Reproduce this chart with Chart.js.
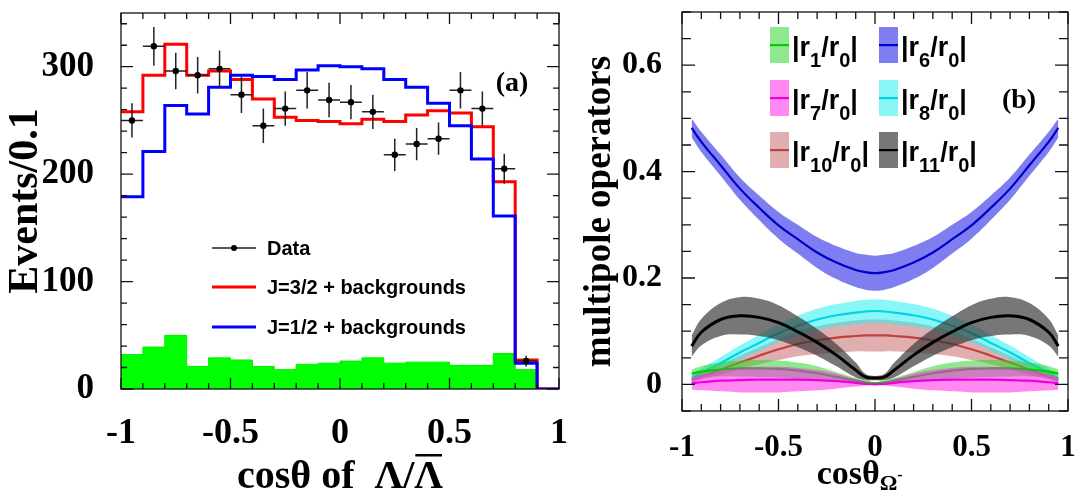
<!DOCTYPE html>
<html lang="en">
<head>
<meta charset="UTF-8">
<title>cos theta distributions</title>
<style>
  html, body { margin: 0; padding: 0; background: #fff; }
  #wrap { position: relative; width: 1075px; height: 497px; }
  #histChart { position: absolute; left: 0; top: 0; }
  #multChart { position: absolute; left: 575px; top: 0; }
</style>
</head>
<body>
<div id="wrap">
  <canvas id="histChart" width="575" height="497"></canvas>
  <canvas id="multChart" width="500" height="497"></canvas>
</div>
<script src="https://cdn.jsdelivr.net/npm/chart.js"></script>
<script>
// ---- panel (a): histogram, 20 bins of 0.1 ----
const binLow = [-1.0, -0.9, -0.8, -0.7, -0.6, -0.5, -0.4, -0.3, -0.2, -0.1,
                 0.0,  0.1,  0.2,  0.3,  0.4,  0.5,  0.6,  0.7,  0.8,  0.9];
const dataCounts = [250, 319, 296, 292, 298, 274, 245, 261, 278, 269,
                    267, 258, 218, 228, 233, 278, 261, 205, 26];
const dataErrors = [16, 18, 17, 17, 17, 17, 16, 16, 17, 16,
                    16, 16, 15, 15, 15, 17, 16, 14, 5];
const fitJ32 = [258, 292, 321, 292, 296, 288, 270, 253, 250, 249,
                247, 251, 249, 255, 259, 257, 244, 193, 27, 0];
const fitJ12 = [179, 221, 264, 256, 281, 292, 291, 288, 297, 301,
                300, 298, 288, 281, 266, 245, 214, 161, 24, 0];
const background = [32, 39, 50, 21, 29, 27, 21, 18, 23, 24,
                    26, 29, 24, 25, 25, 22, 22, 33, 18, 0];
const histXTicks = [-1, -0.5, 0, 0.5, 1];
const histYTicks = [0, 100, 200, 300];

// ---- panel (b): multipole operators vs cos theta ----
const omegaX = [-0.95, -0.9, -0.8, -0.7, -0.6, -0.5, -0.4, -0.3, -0.2, -0.1, -0.05, 0,
                 0.05, 0.1, 0.2, 0.3, 0.4, 0.5, 0.6, 0.7, 0.8, 0.9, 0.95];
const r1 = [0.020, 0.024, 0.028, 0.030, 0.030, 0.029, 0.026, 0.021, 0.014, 0.007, 0.004, 0.002,
            0.004, 0.007, 0.014, 0.021, 0.026, 0.029, 0.030, 0.030, 0.028, 0.024, 0.020];
const r1Err = [0.008, 0.010, 0.013, 0.015, 0.016, 0.016, 0.015, 0.013, 0.009, 0.005, 0.003, 0.002,
               0.003, 0.005, 0.009, 0.013, 0.015, 0.016, 0.016, 0.015, 0.013, 0.010, 0.008];
const r6 = [0.482, 0.456, 0.412, 0.368, 0.332, 0.299, 0.273, 0.248, 0.229, 0.215, 0.211, 0.209,
            0.211, 0.215, 0.229, 0.248, 0.273, 0.299, 0.332, 0.368, 0.412, 0.456, 0.482];
const r6Err = [0.018, 0.019, 0.020, 0.021, 0.023, 0.025, 0.027, 0.029, 0.031, 0.032, 0.033, 0.033,
               0.033, 0.032, 0.031, 0.029, 0.027, 0.025, 0.023, 0.021, 0.020, 0.019, 0.018];
const r7 = [0.002, 0.004, 0.007, 0.008, 0.009, 0.009, 0.009, 0.008, 0.006, 0.003, 0.001, 0.000,
            0.001, 0.003, 0.006, 0.008, 0.009, 0.009, 0.009, 0.008, 0.007, 0.004, 0.002];
const r7Err = [0.012, 0.015, 0.020, 0.023, 0.024, 0.024, 0.022, 0.019, 0.014, 0.007, 0.003, 0.001,
               0.003, 0.007, 0.014, 0.019, 0.022, 0.024, 0.024, 0.023, 0.020, 0.015, 0.012];
const r8 = [0.011, 0.022, 0.040, 0.060, 0.078, 0.096, 0.110, 0.122, 0.130, 0.135, 0.137, 0.138,
            0.137, 0.135, 0.130, 0.122, 0.110, 0.096, 0.078, 0.060, 0.040, 0.022, 0.011];
const r8Err = [0.006, 0.008, 0.011, 0.013, 0.015, 0.017, 0.019, 0.020, 0.021, 0.022, 0.022, 0.022,
               0.022, 0.022, 0.021, 0.020, 0.019, 0.017, 0.015, 0.013, 0.011, 0.008, 0.006];
const r10 = [0.008, 0.015, 0.028, 0.041, 0.054, 0.066, 0.076, 0.083, 0.088, 0.091, 0.092, 0.092,
             0.092, 0.091, 0.088, 0.083, 0.076, 0.066, 0.054, 0.041, 0.028, 0.015, 0.008];
const r10Err = [0.004, 0.006, 0.010, 0.013, 0.016, 0.020, 0.023, 0.026, 0.028, 0.029, 0.030, 0.030,
                0.030, 0.029, 0.028, 0.026, 0.023, 0.020, 0.016, 0.013, 0.010, 0.006, 0.004];
const r11 = [0.072, 0.098, 0.122, 0.129, 0.126, 0.116, 0.099, 0.079, 0.055, 0.027, 0.014, 0.012,
             0.014, 0.027, 0.055, 0.079, 0.099, 0.116, 0.126, 0.129, 0.122, 0.098, 0.072];
const r11Err = [0.020, 0.025, 0.031, 0.035, 0.035, 0.033, 0.029, 0.025, 0.021, 0.014, 0.006, 0.004,
                0.006, 0.014, 0.021, 0.025, 0.029, 0.033, 0.035, 0.035, 0.031, 0.025, 0.020];
const omegaXTicks = [-1, -0.5, 0, 0.5, 1];
const omegaYTicks = [0, 0.2, 0.4, 0.6];

const SERIF = '"Liberation Serif", "Times New Roman", serif';
const SANS = '"Liberation Sans", Arial, Helvetica, sans-serif';

Chart.defaults.animation = false;
Chart.defaults.plugins.legend.display = false;
Chart.defaults.plugins.tooltip.enabled = false;
Chart.defaults.color = '#000';

// keep the plot frame where it is: no extra room for the end labels
function fixBox(prop, size) {
  return s => {
    s[prop] = size;
    s.paddingTop = s.paddingBottom = s.paddingLeft = s.paddingRight = 0;
  };
}

// inward ticks on all four sides, plus the frame
function frameTicks(o) {
  return {
    id: 'frameTicks',
    afterDatasetsDraw(chart) {
      const {ctx, chartArea: a, scales: {x, y}} = chart;
      const isMajor = (v, step) => Math.abs(v / step - Math.round(v / step)) < 1e-6;
      ctx.save();
      ctx.strokeStyle = '#111';
      ctx.lineWidth = 1.3;
      ctx.beginPath();
      for (let i = 0; ; i++) {
        const v = x.min + i * o.xMinor;
        if (v > x.max + 1e-9) break;
        const px = x.getPixelForValue(v);
        const len = isMajor(v, o.xMajor) ? o.xMajorLen : o.xMinorLen;
        ctx.moveTo(px, a.bottom); ctx.lineTo(px, a.bottom - len);
        ctx.moveTo(px, a.top); ctx.lineTo(px, a.top + len);
      }
      for (let i = 0; ; i++) {
        const v = y.min + i * o.yMinor;
        if (v > y.max + 1e-9) break;
        const py = y.getPixelForValue(v);
        const len = isMajor(v, o.yMajor) ? o.yMajorLen : o.yMinorLen;
        ctx.moveTo(a.left, py); ctx.lineTo(a.left + len, py);
        ctx.moveTo(a.right, py); ctx.lineTo(a.right - len, py);
      }
      ctx.stroke();
      ctx.strokeRect(a.left, a.top, a.right - a.left, a.bottom - a.top);
      ctx.restore();
    }
  };
}

// ---------- panel (a) ----------
function stepPoints(vals) {
  const pts = binLow.map((x, i) => ({x, y: vals[i]}));
  pts.push({x: 1, y: vals[vals.length - 1]});
  return pts;
}
const dataPoints = dataCounts.map((v, i) => ({x: binLow[i] + 0.05, y: v}));

const errorBars = {
  id: 'errorBars',
  afterDatasetsDraw(chart) {
    const {ctx, scales: {x, y}} = chart;
    ctx.save();
    ctx.strokeStyle = '#222';
    ctx.lineWidth = 1.5;
    ctx.beginPath();
    dataPoints.forEach((p, i) => {
      const px = x.getPixelForValue(p.x), py = y.getPixelForValue(p.y);
      ctx.moveTo(px, y.getPixelForValue(p.y - dataErrors[i]));
      ctx.lineTo(px, y.getPixelForValue(p.y + dataErrors[i]));
      ctx.moveTo(x.getPixelForValue(p.x - 0.05), py);
      ctx.lineTo(x.getPixelForValue(p.x + 0.05), py);
    });
    ctx.stroke();
    ctx.fillStyle = '#000';
    dataPoints.forEach(p => {
      ctx.beginPath();
      ctx.arc(x.getPixelForValue(p.x), y.getPixelForValue(p.y), 3.2, 0, Math.PI * 2);
      ctx.fill();
    });
    ctx.restore();
  }
};

const histDecor = {
  id: 'histDecor',
  afterDraw(chart) {
    const {ctx, chartArea: a} = chart;
    ctx.save();
    // legend
    const lx0 = a.left + 91, lx1 = a.left + 135, tx = a.left + 146;
    ctx.font = 'bold 20px ' + SANS;
    ctx.textBaseline = 'middle';
    ctx.fillStyle = '#000';
    const rows = [
      {y: a.top + 235, label: 'Data', color: '#222', w: 1.5, dot: true},
      {y: a.top + 274, label: 'J=3/2 + backgrounds', color: '#ff0000', w: 3},
      {y: a.top + 314, label: 'J=1/2 + backgrounds', color: '#0000ff', w: 3}
    ];
    rows.forEach(r => {
      ctx.strokeStyle = r.color;
      ctx.lineWidth = r.w;
      ctx.beginPath();
      ctx.moveTo(lx0, r.y); ctx.lineTo(lx1, r.y);
      ctx.stroke();
      if (r.dot) {
        ctx.beginPath();
        ctx.arc((lx0 + lx1) / 2, r.y, 3, 0, Math.PI * 2);
        ctx.fill();
      }
      ctx.fillText(r.label, tx, r.y + 1);
    });
    // panel tag
    ctx.font = 'bold 28px ' + SERIF;
    ctx.textAlign = 'center';
    ctx.fillText('(a)', 512, 84);
    // x title with overlined Lambda
    ctx.font = 'bold 40px ' + SERIF;
    ctx.textAlign = 'left';
    ctx.textBaseline = 'alphabetic';
    const t1 = 'cosθ of  Λ/', t2 = 'Λ';
    const w1 = ctx.measureText(t1).width, w2 = ctx.measureText(t2).width;
    const x0 = (a.left + a.right) / 2 - (w1 + w2) / 2;
    const base = 488;
    ctx.fillText(t1, x0, base);
    ctx.fillText(t2, x0 + w1, base);
    ctx.fillRect(x0 + w1 + 1, base - 34, w2 - 2, 2.5);
    ctx.restore();
  }
};

new Chart(document.getElementById('histChart'), {
  type: 'line',
  data: {
    datasets: [
      {data: dataPoints, showLine: false, pointRadius: 0},
      {data: stepPoints(fitJ12), stepped: 'before', borderColor: '#0000ff', borderWidth: 3,
       pointRadius: 0, fill: false},
      {data: stepPoints(fitJ32), stepped: 'before', borderColor: '#ff0000', borderWidth: 3,
       pointRadius: 0, fill: false},
      {data: stepPoints(background), stepped: 'before', borderColor: '#00ee00', borderWidth: 1,
       backgroundColor: '#00ff00', pointRadius: 0, fill: 'origin'}
    ]
  },
  options: {
    responsive: false,
    layout: {padding: {top: 13, right: 16, left: 0, bottom: 0}},
    scales: {
      x: {
        type: 'linear', min: -1, max: 1,
        afterFit: fixBox('height', 108),
        afterBuildTicks: s => { s.ticks = histXTicks.map(v => ({value: v})); },
        grid: {display: false}, border: {display: false},
        ticks: {padding: 15, maxRotation: 0, autoSkip: false, callback: v => String(v),
                font: {family: SERIF, size: 36, weight: 'bold'}}
      },
      y: {
        min: 0, max: 350,
        afterFit: fixBox('width', 121),
        afterBuildTicks: s => { s.ticks = histYTicks.map(v => ({value: v})); },
        grid: {display: false}, border: {display: false},
        ticks: {padding: 19, callback: v => String(v),
                font: {family: SERIF, size: 35, weight: 'bold'}},
        title: {display: true, text: 'Events/0.1', padding: {top: 5},
                font: {family: SERIF, size: 42, weight: 'bold', lineHeight: 1}}
      }
    }
  },
  plugins: [errorBars, histDecor,
    frameTicks({xMinor: 0.1, xMajor: 0.5, xMinorLen: 6, xMajorLen: 11,
                yMinor: 20, yMajor: 100, yMinorLen: 6, yMajorLen: 12})]
});

// ---------- panel (b) ----------
// drawing order: first entry ends up on top
const bands = [
  {name: '11', vals: r11, err: r11Err, line: '#000000', w: 3, band: 'rgba(55,55,55,0.68)'},
  {name: '7', vals: r7, err: r7Err, line: '#ee00dd', w: 2.2, band: 'rgba(255,40,230,0.55)'},
  {name: '1', vals: r1, err: r1Err, line: '#00cc00', w: 2.2, band: 'rgba(50,215,50,0.55)'},
  {name: '8', vals: r8, err: r8Err, line: '#00d4e4', w: 2.2, band: 'rgba(40,240,240,0.55)'},
  {name: '10', vals: r10, err: r10Err, line: '#c04040', w: 2.2, band: 'rgba(190,85,85,0.48)'},
  {name: '6', vals: r6, err: r6Err, line: '#0000cc', w: 2.2, band: 'rgba(40,40,230,0.6)'}
];
const pts = vals => omegaX.map((x, i) => ({x, y: vals[i]}));
const multDatasets = [];
bands.forEach(b => {
  multDatasets.push({data: pts(b.vals), borderColor: b.line, borderWidth: b.w,
                     pointRadius: 0, tension: 0.4, fill: false});
  multDatasets.push({data: pts(b.vals.map((v, i) => v + b.err[i])), borderColor: 'transparent',
                     borderWidth: 0, pointRadius: 0, tension: 0.4, fill: '+1', backgroundColor: b.band});
  multDatasets.push({data: pts(b.vals.map((v, i) => v - b.err[i])), borderColor: 'transparent',
                     borderWidth: 0, pointRadius: 0, tension: 0.4, fill: false});
});

const multDecor = {
  id: 'multDecor',
  afterDraw(chart) {
    const {ctx} = chart;
    const find = n => bands.find(b => b.name === n);
    const layout = [
      ['1', 195, 45], ['6', 304, 45],
      ['7', 195, 98], ['8', 304, 98],
      ['10', 195, 150], ['11', 304, 150]
    ];
    ctx.save();
    layout.forEach(([n, x, yc]) => {
      const b = find(n);
      ctx.fillStyle = b.band;
      ctx.fillRect(x, yc - 18, 19, 36);
      ctx.fillStyle = b.line;
      ctx.fillRect(x, yc - 1, 19, 2.2);
      // |r_n/r_0|
      ctx.fillStyle = '#000';
      ctx.textBaseline = 'alphabetic';
      ctx.textAlign = 'left';
      let tx = x + 22;
      const base = yc + 11;
      const main = s => { ctx.font = 'bold 27px ' + SANS; ctx.fillText(s, tx, base); tx += ctx.measureText(s).width; };
      const sub = s => { ctx.font = 'bold 20px ' + SANS; ctx.fillText(s, tx, base + 11); tx += ctx.measureText(s).width; };
      main('|r'); sub(n); main('/r'); sub('0'); main('|');
    });
    // panel tag
    ctx.font = 'bold 28px ' + SERIF;
    ctx.textAlign = 'center';
    ctx.textBaseline = 'middle';
    ctx.fillText('(b)', 444, 101);
    // x title cos(theta) with Omega- subscript
    ctx.textAlign = 'left';
    ctx.textBaseline = 'alphabetic';
    ctx.font = 'bold 34px ' + SERIF;
    const w = ctx.measureText('cosθ').width;
    ctx.font = 'bold 22px ' + SERIF;
    const ws = ctx.measureText('Ω').width;
    const x0 = 285 - (w + ws + 6) / 2;
    ctx.font = 'bold 34px ' + SERIF;
    ctx.fillText('cosθ', x0, 484);
    ctx.font = 'bold 22px ' + SERIF;
    ctx.fillText('Ω', x0 + w, 490);
    ctx.font = 'bold 16px ' + SERIF;
    ctx.fillText('-', x0 + w + ws, 480);
    ctx.restore();
  }
};

new Chart(document.getElementById('multChart'), {
  type: 'line',
  data: {datasets: multDatasets},
  options: {
    responsive: false,
    layout: {padding: {top: 12, right: 7, left: 0, bottom: 0}},
    scales: {
      x: {
        type: 'linear', min: -1, max: 1,
        afterFit: fixBox('height', 86),
        afterBuildTicks: s => { s.ticks = omegaXTicks.map(v => ({value: v})); },
        grid: {display: false}, border: {display: false},
        ticks: {padding: 10, maxRotation: 0, autoSkip: false, callback: v => String(v),
                font: {family: SERIF, size: 31, weight: 'bold'}}
      },
      y: {
        min: -0.05, max: 0.7,
        afterFit: fixBox('width', 107),
        afterBuildTicks: s => { s.ticks = omegaYTicks.map(v => ({value: v})); },
        grid: {display: false}, border: {display: false},
        ticks: {padding: 12, callback: v => String(v),
                font: {family: SERIF, size: 32, weight: 'bold'}},
        title: {display: true, text: 'multipole operators', padding: {top: 7},
                font: {family: SERIF, size: 37, weight: 'bold', lineHeight: 1}}
      }
    }
  },
  plugins: [multDecor,
    frameTicks({xMinor: 0.1, xMajor: 0.5, xMinorLen: 7, xMajorLen: 12,
                yMinor: 0.05, yMajor: 0.2, yMinorLen: 9, yMajorLen: 13})]
});
</script>
</body>
</html>
